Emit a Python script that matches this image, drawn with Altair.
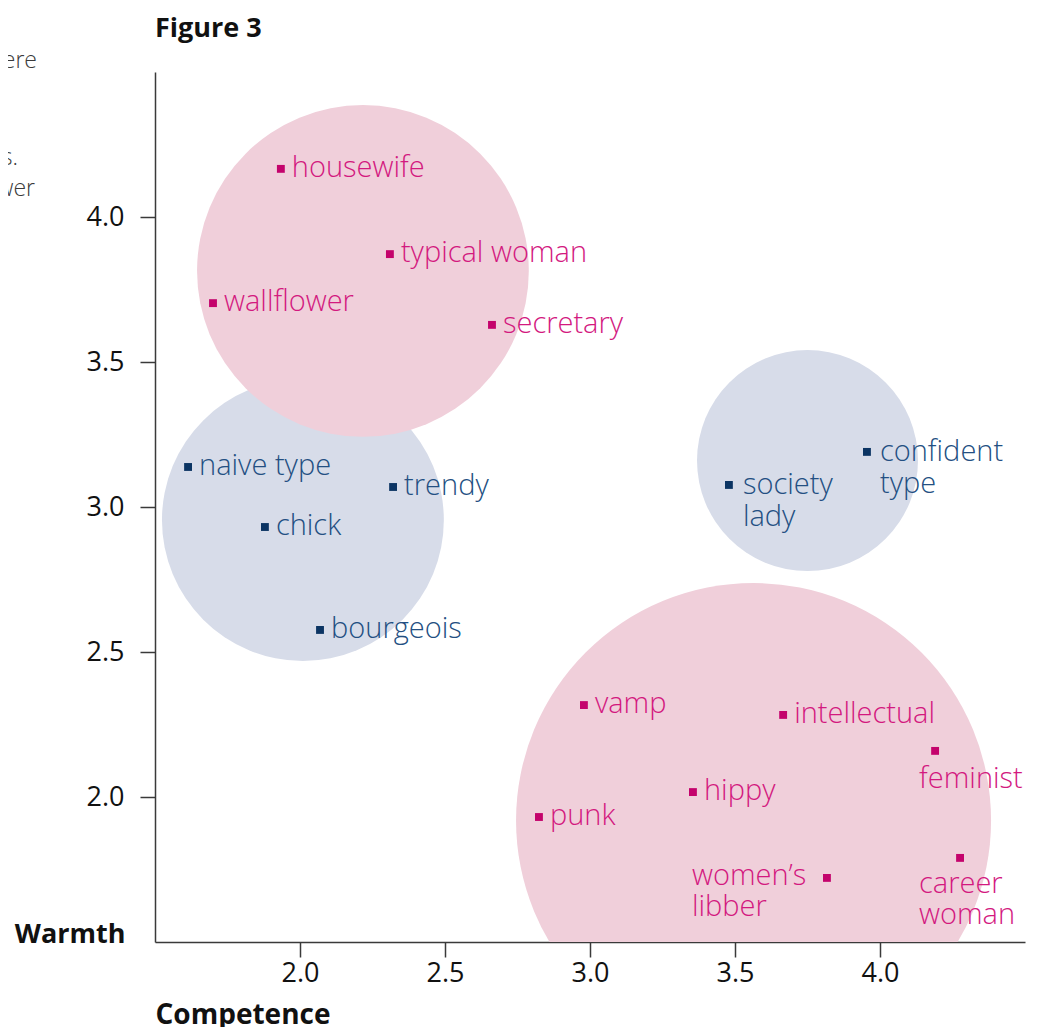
import math
import altair as alt
import pandas as pd

# ---------------- data ----------------
labels = ["housewife", "typical woman", "wallflower", "secretary",
          "vamp", "intellectual", "feminist", "hippy", "punk",
          "women’s\nlibber", "career\nwoman",
          "naive type", "trendy", "chick", "bourgeois",
          "society\nlady", "confident\ntype"]
competence = [1.934, 2.310, 1.700, 2.662,
              2.979, 3.666, 4.190, 3.355, 2.824,
              3.817, 4.276,
              1.614, 2.321, 1.879, 2.069,
              3.479, 3.955]
warmth = [4.166, 3.872, 3.703, 3.628,
          2.317, 2.283, 2.159, 2.017, 1.931,
          1.721, 1.790,
          3.138, 3.069, 2.931, 2.576,
          3.076, 3.190]
group = ["pink"] * 11 + ["blue"] * 6

circle_competence = [2.010, 3.750, 2.217, 3.564]
circle_warmth = [2.955, 3.160, 3.814, 1.919]
circle_radius = [0.486, 0.381, 0.572, 0.819]
circle_group = ["blue", "blue", "pink", "pink"]

x_ticks = [2.0, 2.5, 3.0, 3.5, 4.0]
y_ticks = [2.0, 2.5, 3.0, 3.5, 4.0]
domain = [1.5, 4.5]

title_text = "Figure 3"
fragments = ["here", "d", "gs.", "wer"]

# ---------------- styles ----------------
W = H = 870
PX_PER_UNIT = W / (domain[1] - domain[0])
FONT = "Open Sans"
circle_fill = {"pink": "#F0CFDA", "blue": "#D7DCE9"}
marker_fill = {"pink": "#C4036C", "blue": "#0B3463"}
text_fill = {"pink": "#D3197F", "blue": "#234F82"}

# label offsets (dx, dy, align, lineHeight)
default_off = (11, 8, "left", 31)
label_off = {
    "feminist": (-16, 37, "left", 31),
    "career\nwoman": (-41, 35, "left", 31),
    "women’s\nlibber": (-135, 7, "left", 31),
    "society\nlady": (14, 9, "left", 32),
    "confident\ntype": (13, 9, "left", 32),
}

pts = pd.DataFrame({"label": labels, "competence": competence,
                    "warmth": warmth, "group": group})
circ = pd.DataFrame({"competence": circle_competence, "warmth": circle_warmth,
                     "r": circle_radius, "group": circle_group})
circ["size"] = (2 * circ["r"] * PX_PER_UNIT) ** 2
circ["fill"] = circ["group"].map(circle_fill)
pts["mfill"] = pts["group"].map(marker_fill)
pts["tfill"] = pts["group"].map(text_fill)

xscale = alt.Scale(domain=domain, nice=False, zero=False)
yscale = alt.Scale(domain=domain, nice=False, zero=False)

x_axis = alt.Axis(values=x_ticks, format=".1f", title="Competence",
                  grid=False, domainColor="#3a3a3a", domainWidth=1.5,
                  tickColor="#3a3a3a", tickWidth=1.5, tickSize=15,
                  labelFont=FONT, labelFontSize=27, labelColor="#111111",
                  labelPadding=3,
                  titleFont=FONT, titleFontSize=28, titleFontWeight="bold",
                  titleColor="#111111", titleAnchor="start", titleAlign="left",
                  titleX=0, titleY=81, titleBaseline="alphabetic")
y_axis = alt.Axis(values=y_ticks, format=".1f", title="Warmth",
                  grid=False, domainColor="#3a3a3a", domainWidth=1.5,
                  tickColor="#3a3a3a", tickWidth=1.5, tickSize=15,
                  labelFont=FONT, labelFontSize=27, labelColor="#111111",
                  labelPadding=16,
                  titleFont=FONT, titleFontSize=27, titleFontWeight="bold",
                  titleColor="#111111", titleAngle=0, titleAlign="right",
                  titleX=-30, titleY=870, titleBaseline="alphabetic")

base_x = alt.X("competence:Q", scale=xscale, axis=x_axis)
base_y = alt.Y("warmth:Q", scale=yscale, axis=y_axis)

circles = alt.Chart(circ).mark_circle(opacity=1, clip=True).encode(
    x=base_x, y=base_y,
    size=alt.Size("size:Q", scale=None, legend=None),
    color=alt.Color("fill:N", scale=None, legend=None),
)

markers = alt.Chart(pts).mark_square(size=62, opacity=1).encode(
    x=alt.X("competence:Q", scale=xscale),
    y=alt.Y("warmth:Q", scale=yscale),
    color=alt.Color("mfill:N", scale=None, legend=None),
)

text_layers = []
for lab in labels:
    dx, dy, align, lh = label_off.get(lab, default_off)
    sub = pts[pts["label"] == lab]
    text_layers.append(
        alt.Chart(sub).mark_text(
            font=FONT, fontSize=29, fontWeight=300, align=align,
            baseline="alphabetic", dx=dx, dy=dy, lineBreak="\n",
            lineHeight=lh,
        ).encode(
            x=alt.X("competence:Q", scale=xscale),
            y=alt.Y("warmth:Q", scale=yscale),
            text="label:N",
            color=alt.Color("tfill:N", scale=None, legend=None),
        )
    )

title_layer = alt.Chart(pd.DataFrame({"t": [title_text]})).mark_text(
    font=FONT, fontSize=27, fontWeight="bold", align="left",
    baseline="alphabetic", color="#111111",
).encode(x=alt.value(0), y=alt.value(-35), text="t:N")

# cropped text fragments at the far left edge of the original figure
frag_df = pd.DataFrame({"t": fragments})
frag_x = [-118, -147, -137, -120]
frag_y = [-4, 27, 93, 124]
frag_layers = [
    alt.Chart(frag_df[frag_df["t"] == t]).mark_text(
        font=FONT, fontSize=23, fontWeight=300, align="right",
        baseline="alphabetic", color="#3a3a3a",
    ).encode(x=alt.value(fx), y=alt.value(fy), text="t:N")
    for t, fx, fy in zip(fragments, frag_x, frag_y)
]

chart = alt.layer(circles, markers, *text_layers, title_layer,
                  *frag_layers).properties(
    width=W, height=H,
    autosize=alt.AutoSizeParams(type="none"),
    padding={"left": 147, "top": 64, "right": 5, "bottom": 86},
).configure_view(stroke=None)

chart.save("out.html", embed_options={"renderer": "svg", "actions": False})
